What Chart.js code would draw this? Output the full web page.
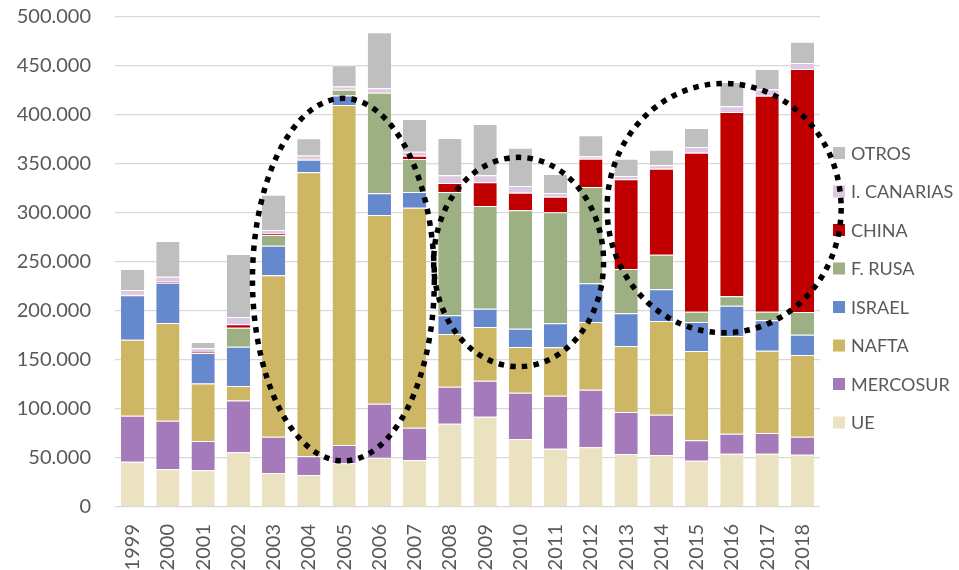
<!DOCTYPE html>
<html lang="es">
<head>
<meta charset="utf-8">
<title>Importaciones por origen 1999-2018</title>
<script src="https://cdn.jsdelivr.net/npm/chart.js@4.4.1/dist/chart.umd.min.js"></script>
<style>
  html, body { margin: 0; padding: 0; background: #fff; }
  #wrap { width: 959px; height: 570px; position: relative; }
</style>
</head>
<body>
<div id="wrap"><canvas id="grafico"></canvas></div>
<script>
// Datos
const anios = ["1999", "2000", "2001", "2002", "2003", "2004", "2005", "2006", "2007", "2008",
               "2009", "2010", "2011", "2012", "2013", "2014", "2015", "2016", "2017", "2018"];

const ue        = [46200, 38400, 37400, 55800, 34700, 32700, 44600, 50300, 47600, 85000,
                   92100, 69400, 59500, 60900, 54100, 53100, 47300, 54400, 54400, 53400];
const mercosur  = [47000, 49600, 30000, 53000, 37100, 19000, 18700, 55100, 33300, 37800,
                   36800, 47200, 54100, 58800, 42800, 41100, 20700, 20400, 21100, 18300];
const nafta     = [77500, 99800, 58500, 14600, 164600, 290000, 346900, 192600, 224500, 53700,
                   54800, 46700, 49400, 69100, 67400, 95600, 91200, 99700, 84000, 83400];
const israel    = [45300, 41100, 31300, 40100, 30200, 12600, 9800, 22100, 16000, 19100,
                   18700, 18600, 24400, 39500, 33300, 32300, 29600, 30900, 31000, 20700];
const fRusa     = [0, 0, 0, 19400, 11000, 500, 5800, 102700, 33700, 125800,
                   104700, 120800, 113300, 98200, 45300, 35400, 10500, 9600, 8800, 23200];
const china     = [1000, 1000, 1000, 3500, 1300, 1000, 500, 500, 3400, 9200,
                   24200, 18000, 16000, 28900, 91500, 87700, 162300, 188100, 220400, 247900];
const canarias  = [4400, 5100, 3700, 7500, 3800, 2800, 2800, 4100, 4100, 7800,
                   7100, 6900, 3700, 2400, 3400, 3400, 5700, 5800, 6500, 6100];
const otros     = [21500, 36500, 6500, 64300, 36000, 17600, 21700, 57100, 33300, 38100,
                   52400, 39000, 19400, 21500, 17600, 16000, 19400, 24800, 20700, 21800];

const ejeYMax = 500000;
const ejeYPaso = 50000;

const series = [
  { label: "UE",          data: ue,       color: "#EBE2C1" },
  { label: "MERCOSUR",    data: mercosur, color: "#A47ABA" },
  { label: "NAFTA",       data: nafta,    color: "#CDB764" },
  { label: "ISRAEL",      data: israel,   color: "#6688CC" },
  { label: "F. RUSA",     data: fRusa,    color: "#9CB083" },
  { label: "CHINA",       data: china,    color: "#C00000" },
  { label: "I. CANARIAS", data: canarias, color: "#DCC8E2" },
  { label: "OTROS",       data: otros,    color: "#BFBFBF" }
];

// Elipses punteadas (en unidades de categoría y de valor)
const elipses = [
  { x: 5.98,  y: 232000, rx: 2.58, ry: 185000 },
  { x: 10.95, y: 250000, rx: 2.41, ry: 106800 },
  { x: 16.78, y: 305000, rx: 3.32, ry: 127200 }
];

const colorTexto = "#595959";
const fuente = "Lato, 'Open Sans', sans-serif";

function formatoMiles(v) {
  return String(v).replace(/\B(?=(\d{3})+(?!\d))/g, ".");
}

// Leyenda a la derecha, en orden inverso (OTROS arriba)
const leyendaPlugin = {
  id: "leyendaDerecha",
  afterDraw(chart) {
    const ctx = chart.ctx;
    const area = chart.chartArea;
    const items = chart.data.datasets.slice().reverse();
    ctx.save();
    ctx.font = "18px " + fuente;
    ctx.textBaseline = "middle";
    ctx.textAlign = "left";
    items.forEach((ds, i) => {
      const yc = area.top + 136 + i * 38.5;
      ctx.fillStyle = ds.backgroundColor;
      ctx.fillRect(area.right + 13, yc - 6, 12, 12);
      ctx.fillStyle = colorTexto;
      ctx.fillText(ds.label, area.right + 31, yc + 1);
    });
    ctx.restore();
  }
};

const elipsesPlugin = {
  id: "elipses",
  afterDraw(chart) {
    const ctx = chart.ctx;
    const xs = chart.scales.x, ys = chart.scales.y;
    const paso = xs.getPixelForValue(1) - xs.getPixelForValue(0);
    ctx.save();
    ctx.strokeStyle = "#000";
    ctx.lineWidth = 5.5;
    ctx.setLineDash([5.5, 6.2]);
    elipses.forEach(e => {
      const cx = xs.getPixelForValue(0) + e.x * paso;
      const cy = ys.getPixelForValue(e.y);
      const rx = e.rx * paso;
      const ry = Math.abs(ys.getPixelForValue(0) - ys.getPixelForValue(e.ry));
      ctx.beginPath();
      ctx.ellipse(cx, cy, rx, ry, 0, 0, 2 * Math.PI);
      ctx.stroke();
    });
    ctx.restore();
  }
};

const ctx = document.getElementById("grafico");
new Chart(ctx.getContext("2d"), {
  type: "bar",
  data: {
    labels: anios,
    datasets: series.map(s => ({
      label: s.label,
      data: s.data,
      backgroundColor: s.color,
      borderColor: "rgba(255,255,255,0.7)",
      borderWidth: { top: 1, left: 0, right: 0, bottom: 0 },
      borderSkipped: false,
      categoryPercentage: 1,
      barPercentage: 0.66
    }))
  },
  options: {
    responsive: true,
    maintainAspectRatio: false,
    animation: false,
    layout: {
      padding: { left: 12, right: 139, top: 17, bottom: 0 }
    },
    plugins: {
      legend: { display: false },
      tooltip: { enabled: false }
    },
    scales: {
      x: {
        stacked: true,
        grid: { display: false },
        border: { display: false },
        ticks: {
          color: colorTexto,
          font: { family: fuente, size: 20 },
          minRotation: 90,
          maxRotation: 90,
          autoSkip: false,
          padding: 9
        },
        afterFit(scale) { scale.height = 63; }
      },
      y: {
        stacked: true,
        min: 0,
        max: ejeYMax,
        grid: { color: "#D9D9D9", lineWidth: 1.3, drawTicks: false },
        border: { display: false },
        ticks: {
          stepSize: ejeYPaso,
          color: colorTexto,
          font: { family: fuente, size: 20 },
          padding: 24,
          callback: v => formatoMiles(v)
        },
        afterFit(scale) {
          scale.width = 103;
          scale.paddingTop = 0;
        }
      }
    }
  },
  plugins: [leyendaPlugin, elipsesPlugin]
});
</script>
</body>
</html>
